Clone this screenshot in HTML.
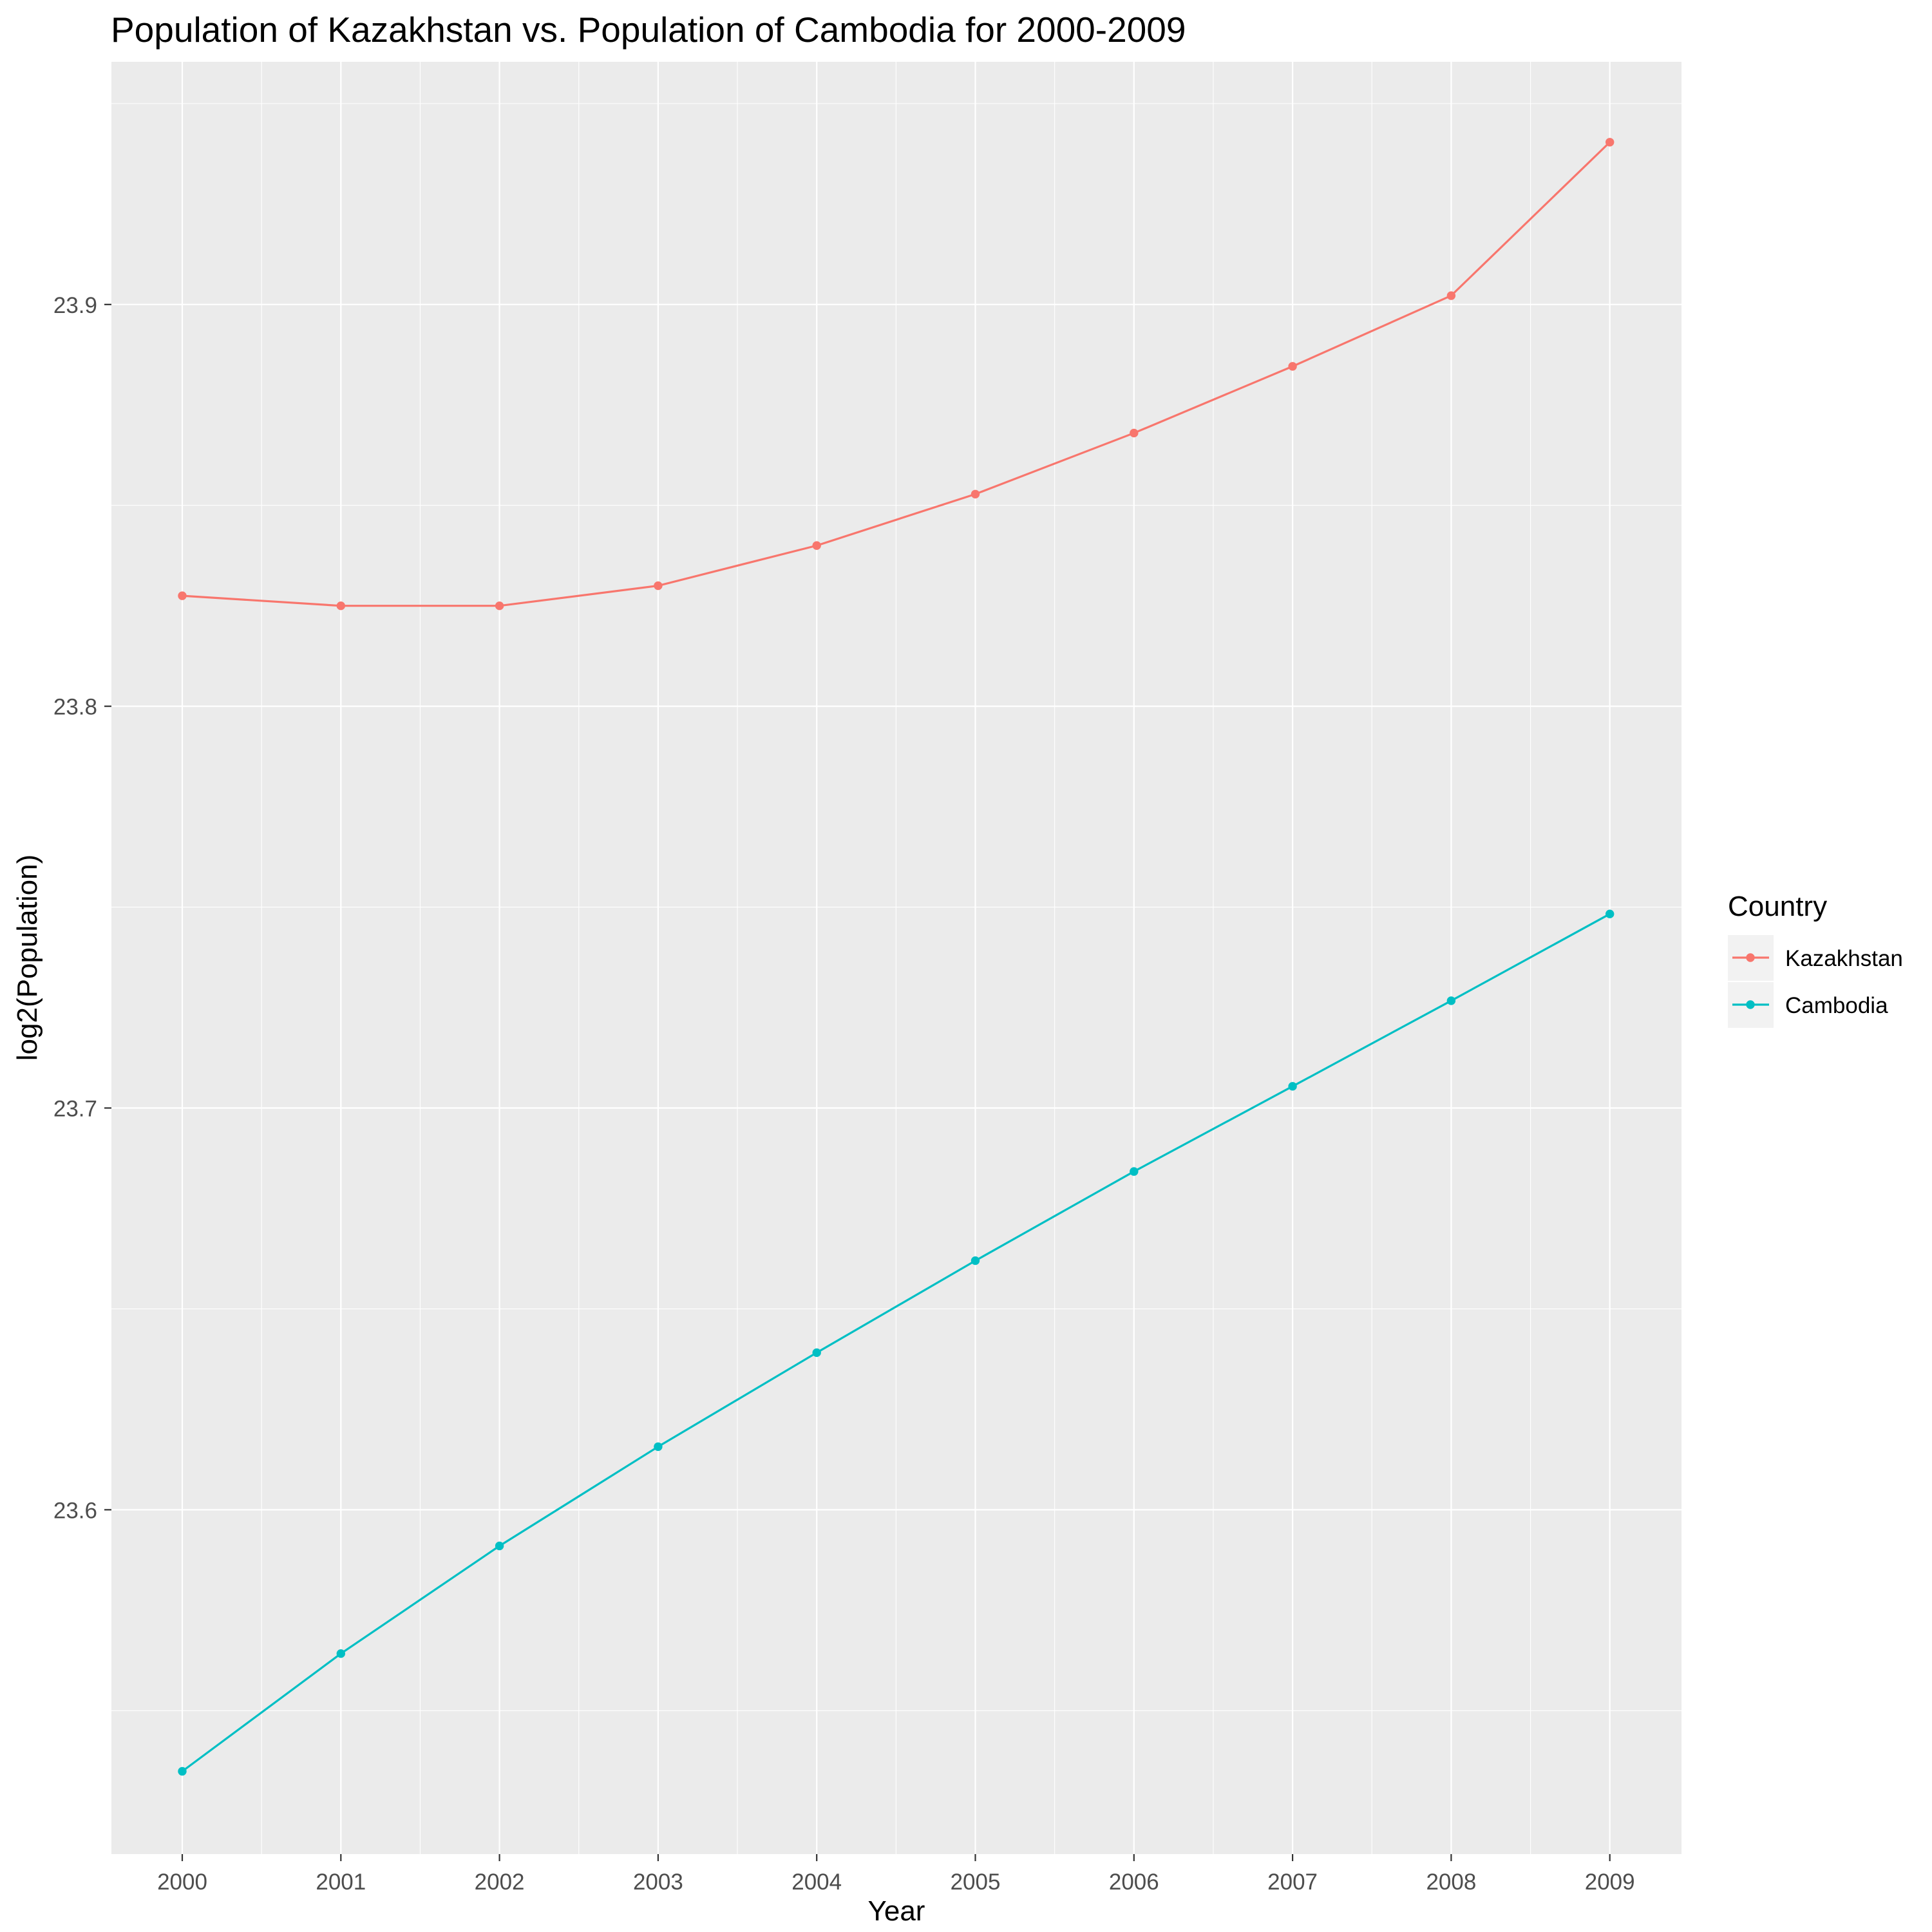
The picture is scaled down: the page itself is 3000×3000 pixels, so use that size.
<!DOCTYPE html>
<html><head><meta charset="utf-8"><style>
html,body{margin:0;padding:0;background:#fff;}
svg{display:block;font-family:"Liberation Sans",Arial,sans-serif;}
</style></head><body>
<svg id="chart" width="3000" height="3000" viewBox="0 0 3000 3000">
<text x="172" y="65" font-size="55" fill="#000">Population of Kazakhstan vs. Population of Cambodia for 2000-2009</text>
<rect x="173" y="96" width="2438" height="2783" fill="#ebebeb"/>
<g id="grid"></g><g id="series"></g><g id="axes"></g>
<text transform="translate(57,1487) rotate(-90)" text-anchor="middle" font-size="44">log2(Population)</text>
<text x="1392" y="2982" text-anchor="middle" font-size="44">Year</text>
<g>
<text x="2683" y="1422" font-size="44">Country</text>
<g>
<rect x="2683" y="1452" width="71" height="71" fill="#f2f2f2"/>
<line x1="2690" y1="1487" x2="2747" y2="1487" stroke="#F8766D" stroke-width="3.2"/>
<circle cx="2718" cy="1487" r="6.7" fill="#F8766D"/>
<text x="2772" y="1500" font-size="35">Kazakhstan</text></g>
<g>
<rect x="2683" y="1525" width="71" height="71" fill="#f2f2f2"/>
<line x1="2690" y1="1560" x2="2747" y2="1560" stroke="#00BFC4" stroke-width="3.2"/>
<circle cx="2718" cy="1560" r="6.7" fill="#00BFC4"/>
<text x="2772" y="1573" font-size="35">Cambodia</text></g>
</g>
</svg>
<script>
const years=[2000,2001,2002,2003,2004,2005,2006,2007,2008,2009];
const kazakhstan=[23.8275,23.825,23.825,23.830,23.840,23.8528,23.868,23.8846,23.9022,23.9404];
const cambodia=[23.5349,23.5642,23.591,23.6157,23.6391,23.662,23.6842,23.7054,23.7267,23.7483];
const yTicks=[23.6,23.7,23.8,23.9];
const yTickLabels=["23.6","23.7","23.8","23.9"];
const NS="http://www.w3.org/2000/svg";
const X0=173,X1=2611,Y0=96,Y1=2879;
const yMin=23.5143,yMax=23.9604;
function x(v){return 283+(v-2000)*246.3;}
function y(v){return Y1-(v-yMin)/(yMax-yMin)*(Y1-Y0);}
function mk(tag,attrs,parent){const e=document.createElementNS(NS,tag);for(const k in attrs)e.setAttribute(k,attrs[k]);parent.appendChild(e);return e;}
const grid=document.getElementById('grid'),ser=document.getElementById('series'),ax=document.getElementById('axes');
for(let i=0;i<yTicks.length+1;i++){const v=(i===0?yTicks[0]-0.05:yTicks[i-1]+0.05);if(v<yMin||v>yMax)continue;
const l=mk('line',{x1:X0,x2:X1,y1:y(v),y2:y(v),stroke:'#fff','stroke-width':1.1},grid);

}
for(let i=0;i<years.length-1;i++){const v=years[i]+0.5;
const l=mk('line',{x1:x(v),x2:x(v),y1:Y0,y2:Y1,stroke:'#fff','stroke-width':1.1},grid);

}
yTicks.forEach((v,i)=>{
const l=mk('line',{x1:X0,x2:X1,y1:y(v),y2:y(v),stroke:'#fff','stroke-width':2.2},grid);


const t=mk('line',{x1:X0-11,x2:X0,y1:y(v),y2:y(v),stroke:'#333','stroke-width':2.2},ax);


const tx=mk('text',{x:X0-22,y:y(v)+13,'text-anchor':'end','font-size':35,fill:'#4d4d4d'},ax);
tx.textContent=yTickLabels[i];

});
years.forEach(v=>{
const l=mk('line',{x1:x(v),x2:x(v),y1:Y0,y2:Y1,stroke:'#fff','stroke-width':2.2},grid);


const t=mk('line',{x1:x(v),x2:x(v),y1:Y1,y2:Y1+11,stroke:'#333','stroke-width':2.2},ax);


const tx=mk('text',{x:x(v),y:Y1+55,'text-anchor':'middle','font-size':35,fill:'#4d4d4d'},ax);
tx.textContent=String(v);

});
function draw(vals,color,name){
const p=mk('polyline',{points:vals.map((v,i)=>x(years[i])+','+y(v)).join(' '),fill:'none',stroke:color,'stroke-width':3.2},ser);


vals.forEach((v,i)=>{const c=mk('circle',{cx:x(years[i]),cy:y(v),r:6.7,fill:color},ser);

});}
draw(kazakhstan,'#F8766D','kazakhstan');
draw(cambodia,'#00BFC4','cambodia');
</script>
</body></html>
